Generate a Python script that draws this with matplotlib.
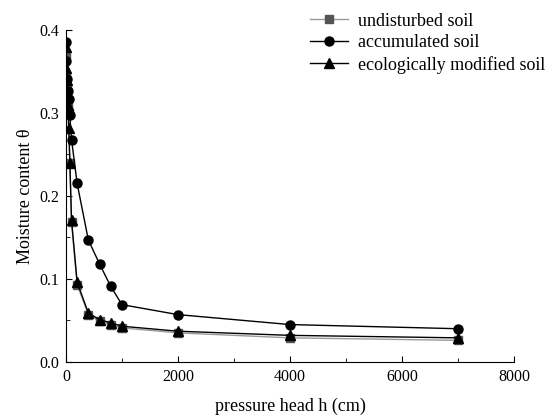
import numpy as np
import matplotlib.pyplot as plt
from matplotlib.ticker import MultipleLocator

plt.rcParams['font.family'] = ['Liberation Serif', 'DejaVu Serif']

# pression (cm) et teneur en eau
h = [0, 10, 20, 30, 50, 70, 100, 200, 400, 600, 800, 1000, 2000, 4000, 7000]
undisturbed = [0.370, 0.345, 0.330, 0.310, 0.300, 0.240, 0.168, 0.093, 0.057,
               0.049, 0.045, 0.041, 0.035, 0.029, 0.026]
accumulated = [0.385, 0.363, 0.341, 0.326, 0.317, 0.297, 0.268, 0.215, 0.147,
               0.118, 0.091, 0.069, 0.057, 0.045, 0.040]
ecological = [0.380, 0.354, 0.340, 0.310, 0.282, 0.240, 0.171, 0.096, 0.059,
              0.051, 0.047, 0.043, 0.037, 0.032, 0.029]

fig = plt.figure(figsize=(5.54, 4.16), dpi=100)
ax = fig.add_axes([0.119, 0.13, 0.809, 0.798])

ax.plot(h, undisturbed, '-s', color='#9a9a9a', mfc='#555555', mec='#555555',
        markersize=5.5, linewidth=1.0, label='undisturbed soil')
ax.plot(h, accumulated, '-o', color='black', markersize=6.5, linewidth=1.0,
        label='accumulated soil')
ax.plot(h, ecological, '-^', color='black', markersize=6.5, linewidth=1.0,
        label='ecologically modified soil')

ax.set_xlim(0, 8000)
ax.set_ylim(0, 0.4)
ax.xaxis.set_major_locator(MultipleLocator(2000))
ax.xaxis.set_minor_locator(MultipleLocator(1000))
ax.yaxis.set_major_locator(MultipleLocator(0.1))
ax.yaxis.set_minor_locator(MultipleLocator(0.05))
ax.tick_params(which='both', direction='in', labelsize=11.5)
ax.tick_params(which='major', length=4, pad=5)
ax.tick_params(which='minor', length=3)
ax.spines['top'].set_visible(False)
ax.spines['right'].set_visible(False)

ax.set_xlabel('pressure head h (cm)', fontsize=13, labelpad=9)
ax.set_ylabel('Moisture content θ', fontsize=13, labelpad=4)

fig.legend(loc='upper left', bbox_to_anchor=(0.537, 1.0), frameon=False,
           fontsize=13, handlelength=2.1, handletextpad=0.55,
           labelspacing=0.25, borderpad=0.2)

plt.savefig('out.png', dpi=100)
